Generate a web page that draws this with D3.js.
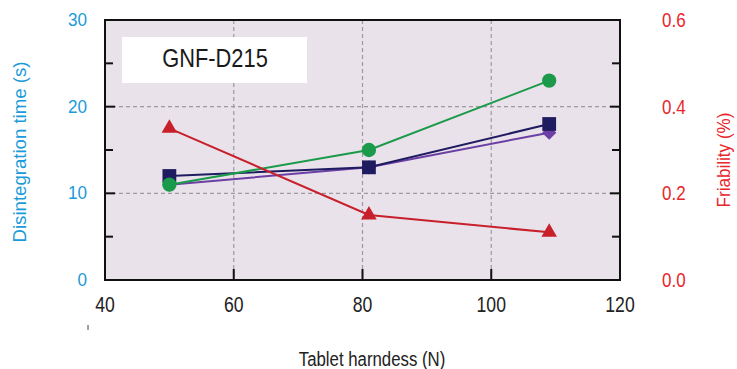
<!DOCTYPE html>
<html>
<head>
<meta charset="utf-8">
<script src="https://cdn.jsdelivr.net/npm/d3@7"></script>
<style>
  html, body { margin: 0; padding: 0; background: #ffffff; }
  svg { display: block; }
  text { font-family: "Liberation Sans", Arial, sans-serif; }
</style>
</head>
<body>
<svg id="chart" width="737" height="369"></svg>
<script>
// Tablet hardness (N) at which each batch was measured
const hardness = [50, 81, 109];

// Disintegration time (s), left axis
const disintSquare  = [12, 13, 18];
const disintDiamond = [11, 13, 17];
const disintCircle  = [11, 15, 23];

// Friability (%), right axis
const friability = [0.35, 0.15, 0.11];

const xTicks = [40, 60, 80, 100, 120];
const yLeftTicks = [0, 10, 20, 30];
const yLeftMinor = [5, 15, 25];
const yRightTicks = [0.0, 0.2, 0.4, 0.6];
const yRightMinor = [0.1, 0.3, 0.5];

const svg = d3.select("#chart");
const plot = { left: 105, right: 620, top: 20, bottom: 280 };

const x = d3.scaleLinear().domain([40, 120]).range([plot.left, plot.right]);
const yL = d3.scaleLinear().domain([0, 30]).range([plot.bottom, plot.top]);
const yR = d3.scaleLinear().domain([0, 0.6]).range([plot.bottom, plot.top]);

const blue = "#1a9ad8";
const red = "#e8262b";

// Condensed text: horizontally squeezed around its anchor point
function label(g, tx, ty, str, opts) {
  const o = Object.assign({ size: 18, sx: 1, anchor: "middle", fill: "#222", rot: 0 }, opts);
  return g.append("text")
    .attr("transform", `translate(${tx},${ty}) rotate(${o.rot}) scale(${o.sx},1)`)
    .attr("text-anchor", o.anchor).attr("font-size", o.size).attr("fill", o.fill)
    .text(str);
}

// Plot background
svg.append("rect")
  .attr("x", plot.left).attr("y", plot.top)
  .attr("width", plot.right - plot.left).attr("height", plot.bottom - plot.top)
  .attr("fill", "#e9e2eb");

// Dashed grid
const grid = svg.append("g").attr("stroke", "#9c9a9e").attr("stroke-width", 1.2)
  .attr("stroke-dasharray", "4,3").attr("fill", "none");
grid.selectAll("line.v").data([60, 80, 100]).join("line")
  .attr("x1", d => x(d)).attr("x2", d => x(d))
  .attr("y1", plot.top).attr("y2", plot.bottom);
grid.selectAll("line.h").data([10, 20]).join("line")
  .attr("x1", plot.left).attr("x2", plot.right)
  .attr("y1", d => yL(d)).attr("y2", d => yL(d));

// Inward tick marks
const ticks = svg.append("g").attr("stroke", "#111").attr("stroke-width", 2);
ticks.selectAll("line.bx").data([60, 80, 100]).join("line")
  .attr("x1", d => x(d)).attr("x2", d => x(d))
  .attr("y1", plot.bottom).attr("y2", plot.bottom - 11);
ticks.selectAll("line.lmaj").data(yLeftTicks.slice(1, -1)).join("line")
  .attr("x1", plot.left).attr("x2", plot.left + 10)
  .attr("y1", d => yL(d)).attr("y2", d => yL(d));
ticks.selectAll("line.lmin").data(yLeftMinor).join("line")
  .attr("x1", plot.left).attr("x2", plot.left + 8)
  .attr("y1", d => yL(d)).attr("y2", d => yL(d));
ticks.selectAll("line.rmaj").data(yRightTicks.slice(1, -1)).join("line")
  .attr("x1", plot.right).attr("x2", plot.right - 10)
  .attr("y1", d => yR(d)).attr("y2", d => yR(d));
ticks.selectAll("line.rmin").data(yRightMinor).join("line")
  .attr("x1", plot.right).attr("x2", plot.right - 8)
  .attr("y1", d => yR(d)).attr("y2", d => yR(d));

// Frame
svg.append("rect")
  .attr("x", plot.left).attr("y", plot.top)
  .attr("width", plot.right - plot.left).attr("height", plot.bottom - plot.top)
  .attr("fill", "none").attr("stroke", "#111").attr("stroke-width", 2);

// Tick labels
const xl = svg.append("g");
xTicks.forEach(d => label(xl, x(d), 312, d, { size: 22, sx: 0.8 }));
const yll = svg.append("g");
yLeftTicks.forEach(d => label(yll, 87, yL(d) + 6, d, { size: 18, sx: 0.95, anchor: "end", fill: blue }));
const yrl = svg.append("g");
yRightTicks.forEach(d => label(yrl, 662, yR(d) + 7, d.toFixed(1), { size: 20, sx: 0.85, anchor: "start", fill: red }));

// Axis titles
label(svg, 26, 152, "Disintegration time (s)", { size: 19, sx: 0.98, rot: -90, fill: blue });
label(svg, 730, 160, "Friability (%)", { size: 19, sx: 0.9, rot: -90, fill: red });
label(svg, 372, 366, "Tablet harndess (N)", { size: 21, sx: 0.8 });

// Small stray mark below the axis
svg.append("line").attr("x1", 88).attr("x2", 88).attr("y1", 325).attr("y2", 330)
  .attr("stroke", "#444").attr("stroke-width", 1);

// Sample label box
svg.append("rect")
  .attr("x", 122).attr("y", 37).attr("width", 185).attr("height", 46)
  .attr("fill", "#ffffff");
label(svg, 215, 67, "GNF-D215", { size: 26, sx: 0.84, fill: "#1a1a1a" });

// Series
const line = (yScale) => d3.line().x(d => x(d[0])).y(d => yScale(d[1]));
const zip = (vals) => hardness.map((h, i) => [h, vals[i]]);

const series = [
  { vals: disintDiamond, y: yL, color: "#6b3fa3", shape: d3.symbolDiamond2, size: 130 },
  { vals: disintSquare,  y: yL, color: "#1f1b60", shape: d3.symbolSquare,   size: 190 },
  { vals: disintCircle,  y: yL, color: "#1b9a4a", shape: d3.symbolCircle,   size: 160 },
  { vals: friability,    y: yR, color: "#c8202a", shape: d3.symbolTriangle, size: 105 }
];

series.forEach(s => {
  const pts = zip(s.vals);
  svg.append("path").datum(pts)
    .attr("d", line(s.y)).attr("fill", "none")
    .attr("stroke", s.color).attr("stroke-width", 2);
  svg.append("g").selectAll("path").data(pts).join("path")
    .attr("transform", d => `translate(${x(d[0])},${s.y(d[1])})`)
    .attr("d", d3.symbol().type(s.shape).size(s.size))
    .attr("fill", s.color);
});
</script>
</body>
</html>
